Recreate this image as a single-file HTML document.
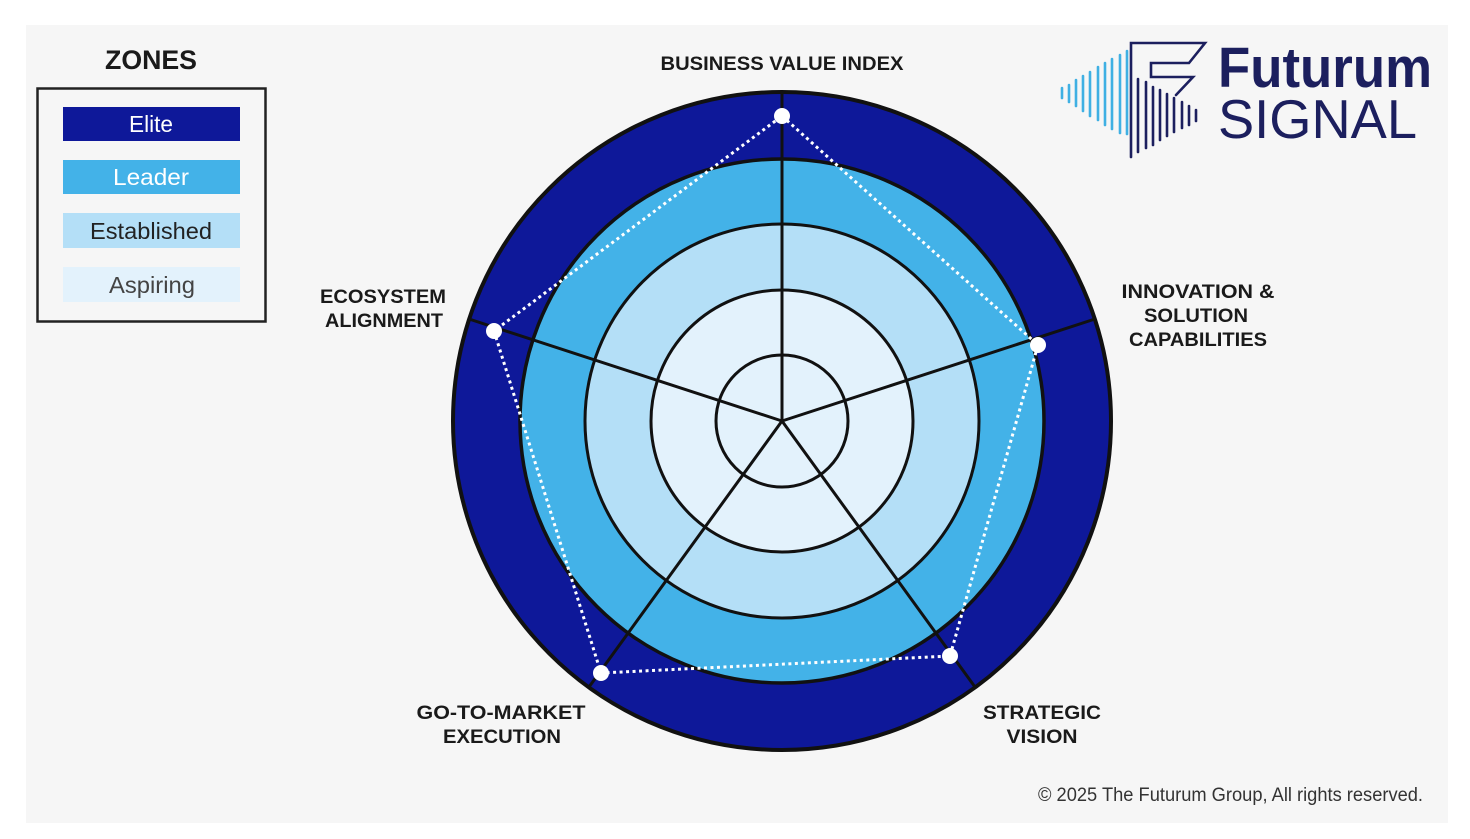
<!DOCTYPE html>
<html>
<head>
<meta charset="utf-8">
<style>
  html,body{margin:0;padding:0;background:#ffffff;}
  body{width:1470px;height:839px;overflow:hidden;}
  svg{display:block;}
  .lbl{font-family:"Liberation Sans",sans-serif;font-weight:bold;font-size:19px;fill:#1a1a1a;}
  .leg{font-family:"Liberation Sans",sans-serif;font-size:23px;}
</style>
</head>
<body>
<svg width="1470" height="839" viewBox="0 0 1470 839" xmlns="http://www.w3.org/2000/svg">
  <!-- panel -->
  <rect x="0" y="0" width="1470" height="839" fill="#ffffff"/>
  <rect x="26" y="25" width="1422" height="798" fill="#f6f6f6"/>

  <!-- ZONES legend -->
  <text x="151" y="69" text-anchor="middle" textLength="92" lengthAdjust="spacingAndGlyphs" font-family="Liberation Sans, sans-serif" font-weight="bold" font-size="27" fill="#1a1a1a">ZONES</text>
  <rect x="37.5" y="88.5" width="228" height="233" fill="none" stroke="#222" stroke-width="2.5"/>
  <rect x="63" y="107" width="177" height="34" fill="#0e1899"/>
  <rect x="63" y="160" width="177" height="34" fill="#43b2e8"/>
  <rect x="63" y="213" width="177" height="35" fill="#b4dff7"/>
  <rect x="63" y="267" width="177" height="35" fill="#e3f2fc"/>
  <text class="leg" x="151" y="132" text-anchor="middle" textLength="44" lengthAdjust="spacingAndGlyphs" fill="#ffffff">Elite</text>
  <text class="leg" x="151" y="185" text-anchor="middle" textLength="76" lengthAdjust="spacingAndGlyphs" fill="#ffffff">Leader</text>
  <text class="leg" x="151" y="239" text-anchor="middle" textLength="122" lengthAdjust="spacingAndGlyphs" fill="#222222">Established</text>
  <text class="leg" x="152" y="293" text-anchor="middle" textLength="86" lengthAdjust="spacingAndGlyphs" fill="#444444">Aspiring</text>

  <!-- radar rings -->
  <circle cx="782" cy="421" r="329" fill="#0e1899" stroke="#111" stroke-width="4"/>
  <circle cx="782" cy="421" r="262" fill="#43b2e8" stroke="#111" stroke-width="3.5"/>
  <circle cx="782" cy="421" r="197" fill="#b4dff7" stroke="#111" stroke-width="3"/>
  <circle cx="782" cy="421" r="131" fill="#e3f2fc" stroke="#111" stroke-width="3"/>
  <circle cx="782" cy="421" r="66" fill="#e3f2fc" stroke="#111" stroke-width="3"/>

  <!-- spokes -->
  <g stroke="#111" stroke-width="3" stroke-linecap="round">
    <line x1="782" y1="421" x2="782" y2="92"/>
    <line x1="782" y1="421" x2="1095" y2="319"/>
    <line x1="782" y1="421" x2="975" y2="687"/>
    <line x1="782" y1="421" x2="589" y2="687"/>
    <line x1="782" y1="421" x2="469" y2="319"/>
  </g>

  <!-- dotted score polygon -->
  <polygon points="782,116 1038,345 950,656 601,673 494,331" fill="none" stroke="#ffffff" stroke-width="3" stroke-dasharray="3 3.5"/>
  <g fill="#ffffff">
    <circle cx="782" cy="116" r="8"/>
    <circle cx="1038" cy="345" r="8"/>
    <circle cx="950" cy="656" r="8"/>
    <circle cx="601" cy="673" r="8"/>
    <circle cx="494" cy="331" r="8"/>
  </g>

  <!-- axis labels -->
  <text class="lbl" x="782" y="70" text-anchor="middle" textLength="243" lengthAdjust="spacingAndGlyphs">BUSINESS VALUE INDEX</text>
  <text class="lbl" x="1198" y="298" text-anchor="middle" textLength="153" lengthAdjust="spacingAndGlyphs">INNOVATION &amp;</text>
  <text class="lbl" x="1196" y="322" text-anchor="middle" textLength="104" lengthAdjust="spacingAndGlyphs">SOLUTION</text>
  <text class="lbl" x="1198" y="346" text-anchor="middle" textLength="138" lengthAdjust="spacingAndGlyphs">CAPABILITIES</text>
  <text class="lbl" x="383" y="303" text-anchor="middle" textLength="126" lengthAdjust="spacingAndGlyphs">ECOSYSTEM</text>
  <text class="lbl" x="384" y="327" text-anchor="middle" textLength="118" lengthAdjust="spacingAndGlyphs">ALIGNMENT</text>
  <text class="lbl" x="501" y="719" text-anchor="middle" textLength="169" lengthAdjust="spacingAndGlyphs">GO-TO-MARKET</text>
  <text class="lbl" x="502" y="743" text-anchor="middle" textLength="118" lengthAdjust="spacingAndGlyphs">EXECUTION</text>
  <text class="lbl" x="1042" y="719" text-anchor="middle" textLength="118" lengthAdjust="spacingAndGlyphs">STRATEGIC</text>
  <text class="lbl" x="1042" y="743" text-anchor="middle" textLength="71" lengthAdjust="spacingAndGlyphs">VISION</text>

  <!-- copyright -->
  <text x="1038" y="801" textLength="385" lengthAdjust="spacingAndGlyphs" font-family="Liberation Sans, sans-serif" font-size="19" fill="#333333">© 2025 The Futurum Group, All rights reserved.</text>

  <!-- logo -->
  <g stroke="#3fb0e3" stroke-width="2.6" stroke-linecap="round">
    <line x1="1062" y1="88" x2="1062" y2="98"/>
    <line x1="1069" y1="85" x2="1069" y2="102"/>
    <line x1="1076" y1="80" x2="1076" y2="106"/>
    <line x1="1083" y1="76" x2="1083" y2="111"/>
    <line x1="1090" y1="72" x2="1090" y2="116"/>
    <line x1="1098" y1="67" x2="1098" y2="120"/>
    <line x1="1105" y1="63" x2="1105" y2="125"/>
    <line x1="1112" y1="59" x2="1112" y2="129"/>
    <line x1="1120" y1="55" x2="1120" y2="133"/>
    <line x1="1127" y1="51" x2="1127" y2="134"/>
  </g>
  <g stroke="#1c1f5e" stroke-width="2.6" stroke-linecap="round" fill="none">
    <line x1="1138" y1="79" x2="1138" y2="152"/>
    <line x1="1146" y1="82" x2="1146" y2="148"/>
    <line x1="1153" y1="87" x2="1153" y2="145"/>
    <line x1="1160" y1="90" x2="1160" y2="140"/>
    <line x1="1167" y1="94" x2="1167" y2="136"/>
    <line x1="1174" y1="98" x2="1174" y2="132"/>
    <line x1="1182" y1="102" x2="1182" y2="128"/>
    <line x1="1189" y1="106" x2="1189" y2="125"/>
    <line x1="1196" y1="110" x2="1196" y2="121"/>
    <polyline points="1131,157 1131,43 1205,43 1189,63 1151,63 1151,77 1193,77 1176,95" stroke-linejoin="miter"/>
  </g>
  <text x="1218" y="87" textLength="214" lengthAdjust="spacingAndGlyphs" font-family="Liberation Sans, sans-serif" font-weight="bold" font-size="57" fill="#1c1f5e">Futurum</text>
  <text x="1218" y="138" textLength="199" lengthAdjust="spacingAndGlyphs" font-family="Liberation Sans, sans-serif" font-size="55" fill="#1c1f5e">SIGNAL</text>
</svg>
</body>
</html>
